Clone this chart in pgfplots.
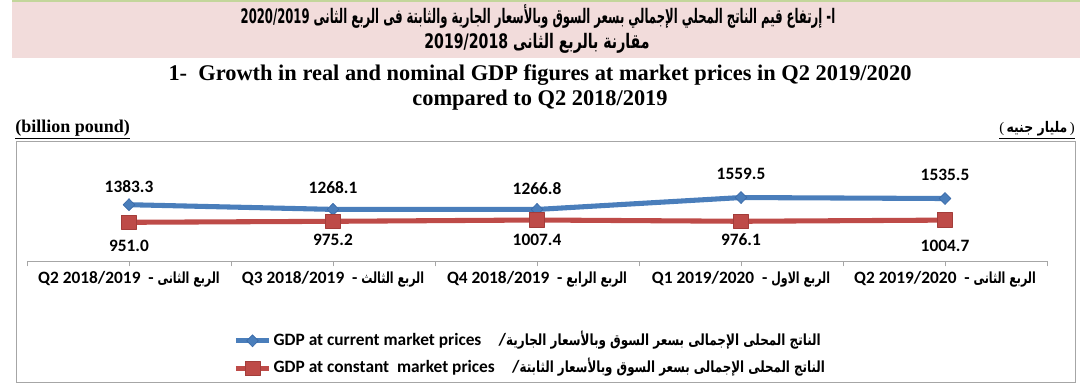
\documentclass[border=0pt]{standalone}
\usepackage{fontspec}
\setmainfont{Liberation Serif}
\newfontfamily\calibri{Carlito}
\newfontfamily\arabicfont[Script=Arabic]{DejaVu Sans}
\usepackage{graphicx}
\usepackage{pgfplots}
\pgfplotsset{compat=1.18}
\usepackage{pgfplotstable}
\TeXXeTstate=1
\definecolor{gdpblue}{HTML}{4A7EBB}
\definecolor{gdpbluedark}{HTML}{3A6AA8}
\definecolor{gdpred}{HTML}{BE4B48}
\definecolor{gdpreddark}{HTML}{A33D3A}
\definecolor{pinkband}{HTML}{F2DCDB}
\definecolor{greenline}{HTML}{C3D69B}
\definecolor{framegray}{HTML}{A6A6A6}
\definecolor{axisgray}{HTML}{A6A6A6}

\pgfplotstableread{
x y lab dy
0 1383.3 1383.3 13.7
1 1268.1 1268.1 16
2 1266.8 1266.8 16
3 1559.5 1559.5 17.5
4 1535.5 1535.5 17.6
}\current
\pgfplotstableread{
x y lab dy
0 951.0 951.0 -17.8
1 975.2 975.2 -14
2 1007.4 1007.4 -15
3 976.1 976.1 -14
4 1004.7 1004.7 -19.4
}\constant

\newcommand{\arf}{\arabicfont\bfseries}
\newcommand{\lblfont}{\calibri\bfseries\fontsize{13}{15}\selectfont}
\newcommand{\tk}{\arf\fontsize{11.5}{13}\selectfont}

\begin{document}
\begin{tikzpicture}
\useasboundingbox (0,0) rectangle (810pt,-291pt);
\begin{scope}[x=0.75pt,y=-0.75pt]
\fill[pinkband] (12,0) rectangle (1080,58);
\draw[greenline, line width=1.5pt] (12,1) -- (1080,1);
\node[inner sep=0pt] at (538,17)
  {\resizebox{446pt}{\height}{\arf\fontsize{15}{16}\selectfont\beginR ا- إرتفاع قيم الناتج المحلي الإجمالي بسعر السوق وبالأسعار الجارية والثابتة فى الربع الثانى \beginL2020/2019\endL\endR}};
\node[inner sep=0pt] at (537,43)
  {\resizebox{169pt}{\height}{\arf\fontsize{15}{16}\selectfont\beginR مقارنة بالربع الثانى \beginL2019/2018\endL\endR}};
\node[font=\bfseries\fontsize{16.8}{18}\selectfont, inner sep=0pt] at (540,75)
  {1-\ \ Growth in real and nominal GDP figures at market prices in Q2 2019/2020};
\node[font=\bfseries\fontsize{16.8}{18}\selectfont, inner sep=0pt] at (540,100)
  {compared to Q2 2018/2019};
\node[font=\bfseries\fontsize{13.5}{15}\selectfont, inner sep=0pt, anchor=base west] at (15,133)
  {\underline{(billion pound)}};
\node[font=\fontsize{11}{13}\selectfont, inner sep=0pt, anchor=base east] at (1075,133)
  {\underline{(\,\scalebox{0.85}[1]{\arf\beginR مليار جنيه\endR}\,)}};
\draw[framegray, line width=0.75pt] (16,142) rectangle (1075,382);
\end{scope}
\begin{axis}[
  at={(20.25pt,-195.75pt)}, anchor=south west,
  scale only axis, width=765pt, height=76.3pt,
  xmin=-0.5, xmax=4.5, ymin=0, ymax=2500,
  axis y line=none, axis x line*=bottom,
  x axis line style={draw=axisgray, line width=0.75pt},
  xtick={0,...,4},
  xticklabels={
    {Q2 2018/2019\ \ -\ \scalebox{0.72}[1]{\tk\beginR الربع الثانى\endR}},
    {Q3 2018/2019\ \ -\ \scalebox{0.72}[1]{\tk\beginR الربع الثالث\endR}},
    {Q4 2018/2019\ \ -\ \scalebox{0.72}[1]{\tk\beginR الربع الرابع\endR}},
    {Q1 2019/2020\ \ -\ \scalebox{0.72}[1]{\tk\beginR الربع الاول\endR}},
    {Q2 2019/2020\ \ -\ \scalebox{0.72}[1]{\tk\beginR الربع الثانى\endR}}},
  extra x ticks={-0.5,0.5,1.5,2.5,3.5,4.5},
  extra x tick labels={},
  tick align=outside,
  major tick length=4pt,
  tick style={draw=axisgray, line width=0.75pt},
  xticklabel style={font=\lblfont, anchor=base, yshift=-13pt},
  clip=false,
  nodes near coords, point meta=explicit symbolic,
  visualization depends on={\thisrow{dy}\as\dy},
  nodes near coords style={font=\lblfont, text=black, anchor=center, yshift=\dy pt},
  legend style={at={(0.202,-0.68)}, anchor=north west, draw=none, fill=none,
    inner sep=0pt, font=\lblfont, row sep=5.25pt,
    nodes={inner sep=1.5pt, text height=9.5pt, text depth=3pt}},
  legend cell align=left,
  legend image code/.code={\draw[mark repeat=2, mark phase=2, #1] plot coordinates {(0pt,0pt) (12.5pt,0pt) (25pt,0pt)};},
]
\addplot[gdpblue, line width=3.8pt, line join=round, mark=diamond*, mark size=4.5pt,
  mark options={fill=gdpblue, draw=gdpbluedark, line width=0.5pt, xscale=1.3}]
  table[x=x, y=y, meta=lab]{\current};
\addlegendentry{GDP at current market prices\quad/\resizebox{236pt}{\height}{\tk\beginR الناتج المحلى الإجمالى بسعر السوق وبالأسعار الجارية\endR}}
\addplot[gdpred, line width=3.8pt, line join=round, mark=square*, mark size=5.5pt,
  mark options={fill=gdpred, draw=gdpreddark, line width=0.5pt}]
  table[x=x, y=y, meta=lab]{\constant};
\addlegendentry{GDP at constant\ \ market prices\quad/\resizebox{229pt}{\height}{\tk\beginR الناتج المحلى الإجمالى بسعر السوق وبالأسعار الثابتة\endR}}
\end{axis}
\end{tikzpicture}
\end{document}
